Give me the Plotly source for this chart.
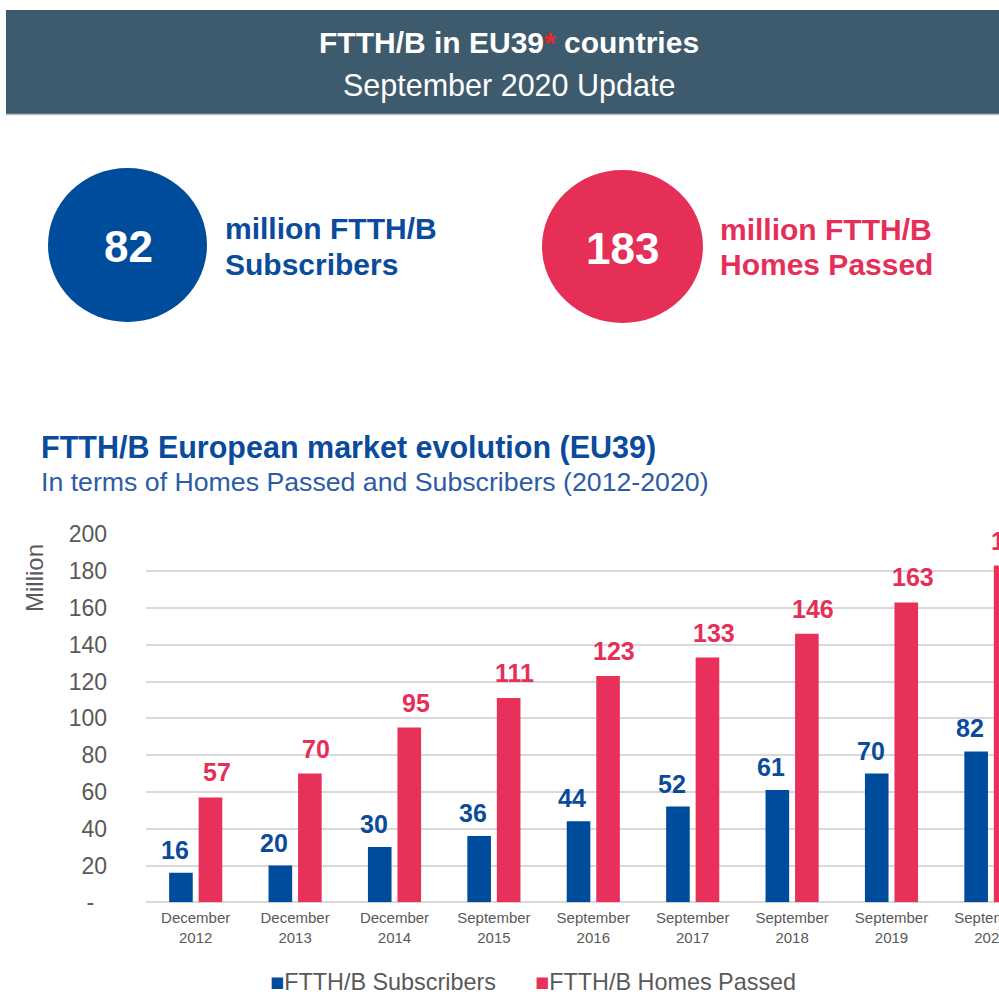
import plotly.graph_objects as go

# ---------------- data ----------------
categories = ["December<br>2012", "December<br>2013", "December<br>2014",
              "September<br>2015", "September<br>2016", "September<br>2017",
              "September<br>2018", "September<br>2019", "September<br>2020"]
subscribers = [16, 20, 30, 36, 44, 52, 61, 70, 82]
homes_passed = [57, 70, 95, 111, 123, 133, 146, 163, 183]
y_tick_vals = [0, 20, 40, 60, 80, 100, 120, 140, 160, 180, 200]
y_tick_text = ["-\u00a0\u00a0", "20", "40", "60", "80", "100", "120", "140", "160", "180", "200"]
headline_subscribers = 82
headline_homes = 183
series_names = ["FTTH/B Subscribers", "FTTH/B Homes Passed"]

# ---------------- style ----------------
W, H = 999, 992
OFF = 0  # body margin removed below, so figure pixels == screen pixels
FONT = "Liberation Sans, Arial, Helvetica, sans-serif"
BLUE = "#004c9c"
RED = "#e8315a"
HEADER = "#3e5a6d"
GRAY = "#595959"


def px(x):
    return (x - OFF) / W


def py(y):
    return 1 - (y - OFF) / H


fig = go.Figure()
fig.add_trace(go.Bar(x=categories, y=subscribers, name=series_names[0],
                     marker=dict(color=BLUE, line=dict(width=0))))
fig.add_trace(go.Bar(x=categories, y=homes_passed, name=series_names[1],
                     marker=dict(color=RED, line=dict(width=0))))

shapes = [
    dict(type="rect", xref="paper", yref="paper", x0=px(6), x1=px(1010), y0=py(114), y1=py(10),
         fillcolor=HEADER, line=dict(width=0), layer="below"),
    dict(type="line", xref="paper", yref="paper", x0=px(6), x1=px(1010), y0=py(114.5), y1=py(114.5),
         line=dict(color="#b8c2c8", width=1.5)),
    dict(type="circle", xref="paper", yref="paper", x0=px(48), x1=px(207), y0=py(322), y1=py(168),
         fillcolor=BLUE, line=dict(width=0)),
    dict(type="circle", xref="paper", yref="paper", x0=px(542), x1=px(703), y0=py(323), y1=py(170),
         fillcolor="#e62f57", line=dict(width=0)),
]

ann = []


def text(x, y, t, size, color, bold=False, xanchor="left", **kw):
    ann.append(dict(xref="paper", yref="paper", x=px(x), y=py(y), text=t, showarrow=False,
                    xanchor=xanchor, yanchor="middle",
                    font=dict(family=FONT, size=size, color=color,
                              weight="bold" if bold else "normal"), **kw))


text(509, 42, "FTTH/B in EU39<span style='color:#e8262f'>*</span> countries", 30, "white", True, "center")
text(509, 86, "September 2020 Update", 30.5, "white", False, "center")
text(128, 246, str(headline_subscribers), 44, "white", True, "center")
text(622, 248, str(headline_homes), 44, "white", True, "center")
text(223, 228, "million FTTH/B", 30, "#0a4b9c", True)
text(223, 264, "Subscribers", 30, "#0a4b9c", True)
text(718, 230, "million FTTH/B", 30, "#e52f58", True)
text(718, 265, "Homes Passed", 30, "#e52f58", True)
text(39, 447, "FTTH/B European market evolution (EU39)", 30.5, "#0a4b9c", True)
text(39, 482, "In terms of Homes Passed and Subscribers (2012-2020)", 26.7, "#2c5ca6")
text(34, 578, "Million", 24, GRAY, False, "center", textangle=-90)
text(268, 982, f"<span style='color:{BLUE}'>■</span>{series_names[0]}", 23.4, GRAY)
text(533, 982, f"<span style='color:{RED}'>■</span>{series_names[1]}", 23.4, GRAY)

# bar value labels
for c, v in zip(categories, subscribers):
    ann.append(dict(xref="x", yref="y", x=c, y=v, text=str(v), showarrow=False,
                    xanchor="center", yanchor="bottom", xshift=-21, yshift=7,
                    font=dict(family=FONT, size=25, color="#0a4b9c", weight="bold")))
for c, v in zip(categories, homes_passed):
    ann.append(dict(xref="x", yref="y", x=c, y=v, text=str(v), showarrow=False,
                    xanchor="center", yanchor="bottom", xshift=21, yshift=9,
                    font=dict(family=FONT, size=25, color="#e52f58", weight="bold")))

# plot area: screen x 146 .. right window edge, screen y 534.3 .. 902.3
cat_px = 99.4
x_end = -0.5 + (W + OFF - 146) / cat_px

fig.update_layout(
    width=W, height=H,
    margin=dict(l=0, r=0, t=0, b=0, autoexpand=False),
    paper_bgcolor="white", plot_bgcolor="white",
    barmode="group", bargap=0.406, bargroupgap=0.2,
    showlegend=False,
    font=dict(family=FONT, color=GRAY),
    shapes=shapes, annotations=ann,
    xaxis=dict(domain=[px(146), 1], range=[-0.5, x_end], type="category",
               tickfont=dict(size=15, color=GRAY, family=FONT), showgrid=False,
               showline=False, ticks="", zeroline=False, ticklabelstandoff=5),
    yaxis=dict(domain=[py(902.3), py(534.3)], range=[0, 200], tickvals=y_tick_vals,
               ticktext=y_tick_text, tickfont=dict(size=23, color=GRAY, family=FONT),
               showgrid=True, gridcolor="#d9d9d9", gridwidth=1.5,
               zeroline=True, zerolinecolor="#d9d9d9", zerolinewidth=1.5,
               ticks="", ticklabelstandoff=38, showline=False),
)

fig.write_html("out.html",
               config={"displayModeBar": False},
               post_script="document.body.style.margin='0';document.body.style.overflow='hidden';")
